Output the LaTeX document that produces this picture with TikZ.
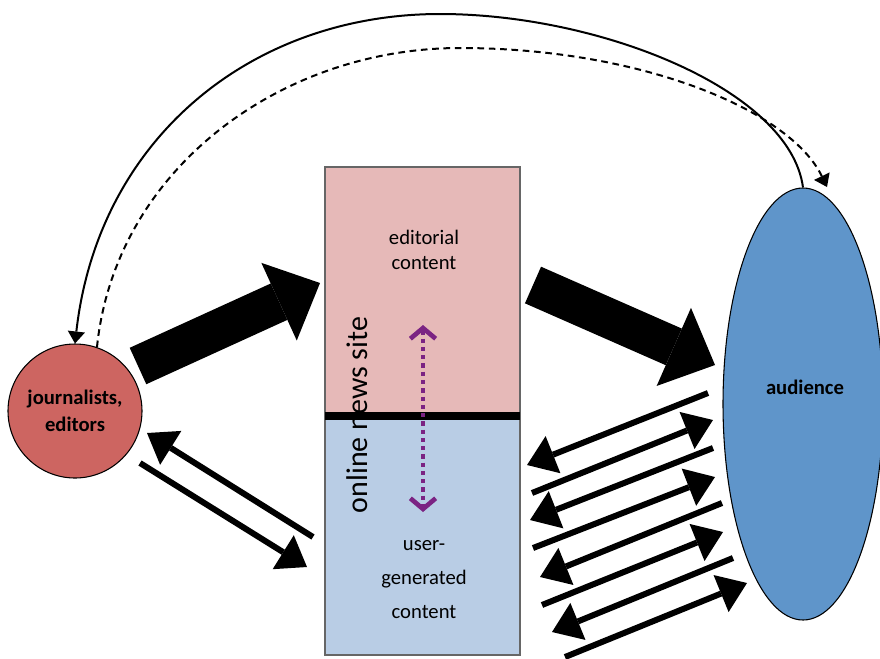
\documentclass[tikz,border=0pt]{standalone}
\usepackage{fontspec}
\setmainfont{Carlito}
\usetikzlibrary{arrows.meta,shapes.geometric}
\definecolor{pinkc}{HTML}{E6B9B8}
\definecolor{bluec}{HTML}{B9CDE5}
\definecolor{jred}{HTML}{CD6561}
\definecolor{audblue}{HTML}{5F95CA}
\definecolor{purp}{HTML}{7B2383}
\begin{document}
\begin{tikzpicture}[x=0.75pt,y=-0.75pt,
  blockarr/.style={line width=30pt,-{Triangle[length=33.75pt,width=64pt,line width=0pt]}},
  thinarr/.style={line width=4.5pt,-{Triangle[length=21pt,width=30pt,line width=0pt]}},
  curvearr/.style={line width=1.5pt,-{Triangle[length=9pt,width=13pt,line width=0pt]}},
  lbl/.style={font=\fontsize{15.5}{18}\selectfont,align=center,inner sep=0pt},
  bold/.style={font=\fontsize{15.5}{18}\selectfont\bfseries,align=center,inner sep=0pt}]
\useasboundingbox (0,0) rectangle (880,658);

% news site box
\fill[pinkc] (325,167) rectangle (520,416);
\fill[bluec] (325,416) rectangle (520,655);
\draw[gray!80!black,line width=0.8pt] (325,167) rectangle (520,655);
\draw[line width=6pt] (325,416) -- (520,416);
\node[lbl] (ed) at (424,250) {editorial\\[0.75pt]content};
\node[lbl] (ugc) at (424,580) {user-\\[7.5pt]generated\\[7.5pt]content};
\node[rotate=90,font=\fontsize{22.5}{26}\selectfont,inner sep=0pt] (site) at (357,415) {online news site};

% purple dotted double arrow
\coordinate (pt) at (423,325);
\coordinate (pb) at (423,512);
\draw[purp,line width=3.5pt,dash pattern=on 3.2pt off 3pt,
  {Straight Barb[length=8pt,width=19pt]}-{Straight Barb[length=8pt,width=19pt]}] (pt) -- (pb);

% journalists circle
\node[circle,draw,line width=0.8pt,fill=jred,minimum size=100.5pt,inner sep=0pt,bold] (jour) at (75,411) {journalists,\\[2pt]editors};

% audience ellipse
\node[ellipse,draw,line width=0.8pt,fill=audblue,minimum width=120pt,minimum height=324pt,inner sep=0pt] (aud) at (803,404) {};
\node[bold] (audt) at (805,387) {audience};

% block arrows
\coordinate (b1s) at (138,366);
\coordinate (b1e) at (320,283);
\coordinate (b2s) at (533,285);
\coordinate (b2e) at (715,365);
\draw[blockarr] (b1s) -- (b1e);
\draw[blockarr] (b2s) -- (b2e);

% thin arrows left
\coordinate (l1s) at (313,537);
\coordinate (l1e) at (147,433);
\coordinate (l2s) at (140,463);
\coordinate (l2e) at (307,567);
\draw[thinarr] (l1s) -- (l1e);
\draw[thinarr] (l2s) -- (l2e);

% thin arrows right
\coordinate (r1s) at (708,393); \coordinate (r1e) at (527,465);
\coordinate (r2s) at (532,493); \coordinate (r2e) at (713,420);
\coordinate (r3s) at (713,448); \coordinate (r3e) at (530,520);
\coordinate (r4s) at (533,548); \coordinate (r4e) at (715,477);
\coordinate (r5s) at (722,503); \coordinate (r5e) at (540,577);
\coordinate (r6s) at (542,605); \coordinate (r6e) at (723,532);
\coordinate (r7s) at (733,558); \coordinate (r7e) at (552,632);
\coordinate (r8s) at (565,657); \coordinate (r8e) at (747,583);
\foreach \i in {1,...,8} {\draw[thinarr] (r\i s) -- (r\i e);}

% top curves
\coordinate (solpeak) at (440,14);
\draw[curvearr] (aud.north) .. controls (790,90) and (600,14) .. (solpeak)
  .. controls (250,14) and (98,140) .. (jour.north);
\coordinate (dashpeak) at (460,48);
\coordinate (dashend) at (827,187);
\draw[curvearr,dash pattern=on 5pt off 3.5pt] (jour.71) .. controls (115,170) and (280,48) .. (dashpeak)
  .. controls (640,48) and (790,110) .. (dashend);
\end{tikzpicture}
\end{document}
